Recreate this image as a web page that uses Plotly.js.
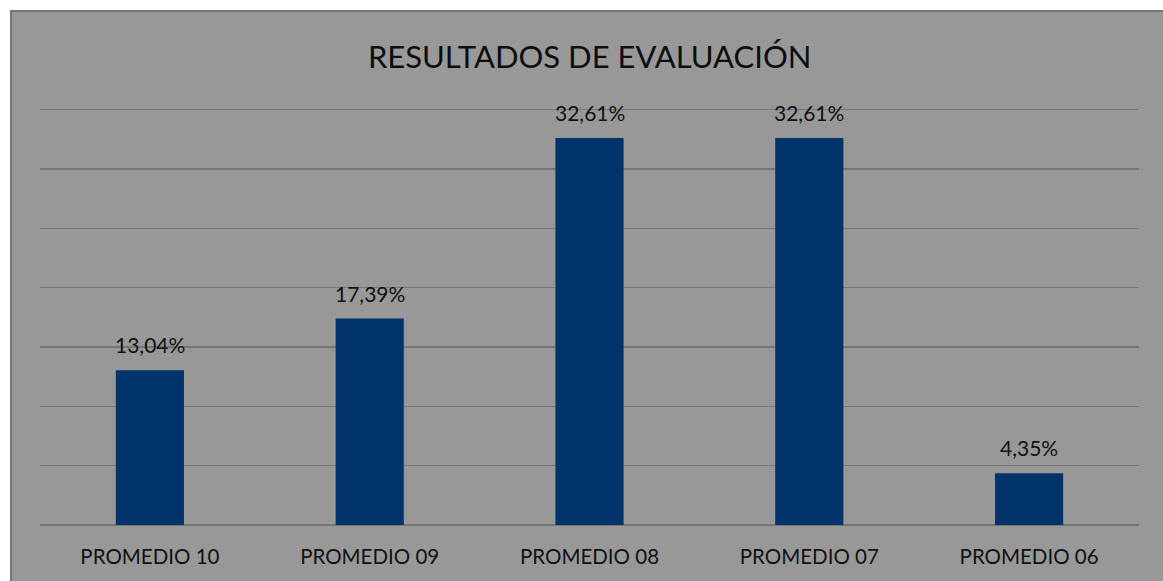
<!DOCTYPE html>
<html>
<head>
<meta charset="utf-8">
<script src="https://cdn.plot.ly/plotly-3.0.1.min.js"></script>
<style>html,body{margin:0;padding:0;background:#fff;}#chart{width:1163px;height:581px;}</style>
</head>
<body>
<div id="chart"></div>
<script>
const categories = ["PROMEDIO 10", "PROMEDIO 09", "PROMEDIO 08", "PROMEDIO 07", "PROMEDIO 06"];
const values = [13.04, 17.39, 32.61, 32.61, 4.35];
const labels = ["13,04%", "17,39%", "32,61%", "32,61%", "4,35%"];

const W = 1163, H = 581;
const mL = 40, mR = 24, mT = 106, mB = 56;
const pw = W - mL - mR, ph = H - mT - mB;
const fontFam = "Lato, 'Open Sans', sans-serif";

const trace = {
  type: "bar",
  x: categories,
  y: values,
  marker: {color: "#00336a", line: {width: 0}},
  hoverinfo: "skip"
};

const annotations = categories.map((c, i) => ({
  x: c, y: values[i], xref: "x", yref: "y",
  text: labels[i], showarrow: false,
  yanchor: "bottom", yshift: 11,
  font: {family: fontFam, size: 21, color: "#111111"}
}));

const layout = {
  width: W, height: H,
  margin: {l: mL, r: mR, t: mT, b: mB, pad: 0},
  paper_bgcolor: "#ffffff",
  plot_bgcolor: "rgba(0,0,0,0)",
  title: {
    text: "RESULTADOS DE EVALUACIÓN",
    font: {family: fontFam, size: 31, color: "#0d0d0d"},
    x: 0.507, xanchor: "center", y: 1 - 57 / H, yanchor: "middle", yref: "container"
  },
  bargap: 0.69,
  showlegend: false,
  xaxis: {
    type: "category",
    showgrid: false, zeroline: false, showline: false,
    ticks: "", ticklabelstandoff: 17,
    tickfont: {family: fontFam, size: 20.5, color: "#111111"},
    fixedrange: true
  },
  yaxis: {
    range: [0, 35.3], dtick: 5, tick0: 0,
    showticklabels: false, ticks: "",
    showgrid: true, gridcolor: "#757575", gridwidth: 1.5,
    zeroline: true, zerolinecolor: "#757575", zerolinewidth: 1.5,
    showline: false, fixedrange: true
  },
  shapes: [{
    type: "rect", layer: "below",
    xref: "paper", yref: "paper",
    x0: (11 - mL) / pw, x1: (W + 20 - mL) / pw,
    y0: (mT + ph - (H + 20)) / ph, y1: (mT + ph - 11) / ph,
    fillcolor: "#989898",
    line: {color: "#747474", width: 2}
  }],
  annotations: annotations
};

Plotly.newPlot("chart", [trace], layout, {displayModeBar: false, staticPlot: true});
</script>
</body>
</html>
